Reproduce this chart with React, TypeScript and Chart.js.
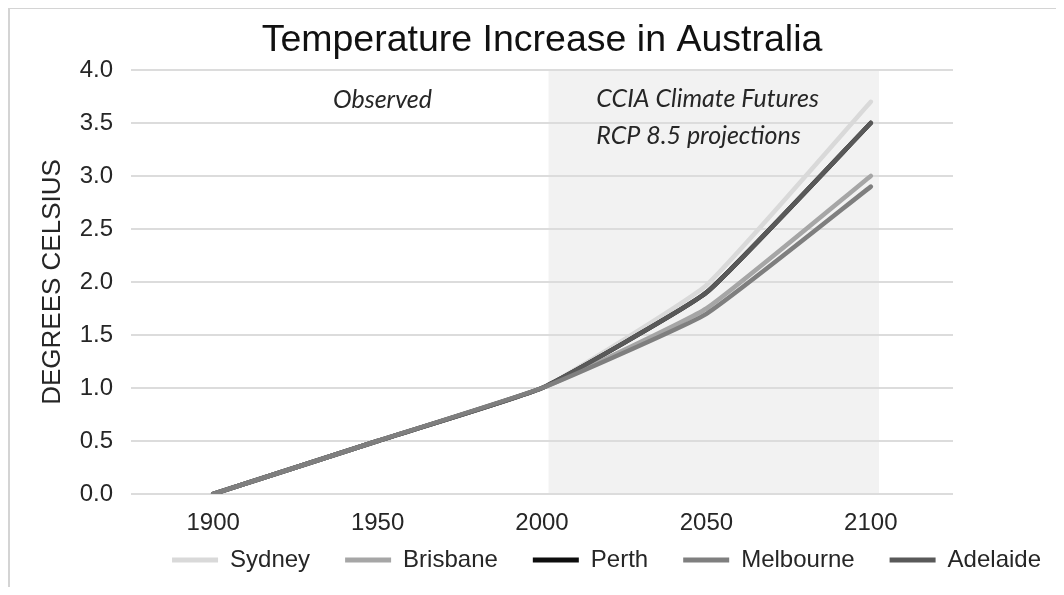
import React, { useEffect, useRef } from "react";
import { Chart, registerables } from "chart.js";

Chart.register(...registerables);

const YEARS = ["1900", "1950", "2000", "2050", "2100"];
const SYDNEY = [0, 0.5, 1.0, 1.97, 3.7];
const BRISBANE = [0, 0.5, 1.0, 1.75, 3.0];
const PERTH = [0, 0.5, 1.0, 1.9, 3.5];
const MELBOURNE = [0, 0.5, 1.0, 1.7, 2.9];
const ADELAIDE = [0, 0.5, 1.0, 1.9, 3.5];

const SERIES_NAMES = ["Sydney", "Brisbane", "Perth", "Melbourne", "Adelaide"];
const SERIES_VALUES = [SYDNEY, BRISBANE, PERTH, MELBOURNE, ADELAIDE];
const SERIES_COLORS = ["#d9d9d9", "#a6a6a6", "#0d0d0d", "#7f7f7f", "#595959"];
const SERIES_ORDER = [4, 2, 3, 0, 1];

const TITLE = "Temperature Increase in Australia";
const Y_TITLE = "DEGREES CELSIUS";
const Y_MIN = 0;
const Y_MAX = 4;
const Y_STEP = 0.5;

const SHADE_START = 2.04;
const SHADE_END = 4.05;
const OBSERVED_LABEL = "Observed";
const PROJ_LABELS = ["CCIA Climate Futures", "RCP 8.5 projections"];

const SANS = "'Liberation Sans', Arial, sans-serif";
const ITALIC = "'Lato', 'Open Sans', sans-serif";

const LEGEND_SHIFT = 23;

const decorPlugin = {
  id: "decor",
  afterLayout(chart: any) {
    const lg = chart.legend;
    if (lg) {
      lg.top -= LEGEND_SHIFT;
      lg.bottom -= LEGEND_SHIFT;
    }
  },
  beforeDraw(chart: any) {
    const { ctx, chartArea, scales, width, height } = chart;
    const x = scales.x;
    ctx.save();
    // outer frame (left + top)
    ctx.strokeStyle = "#d4d4d4";
    ctx.lineWidth = 2;
    ctx.beginPath();
    ctx.moveTo(1, height);
    ctx.lineTo(1, 0);
    ctx.lineTo(width, 0);
    ctx.stroke();
    // projection shading
    const left = x.getPixelForValue(SHADE_START);
    const right = x.getPixelForValue(SHADE_END);
    ctx.fillStyle = "#f2f2f2";
    ctx.fillRect(left, chartArea.top, right - left, chartArea.bottom - chartArea.top);
    ctx.restore();
  },
  beforeDatasetsDraw(chart: any) {
    const { ctx, scales } = chart;
    const x = scales.x;
    const y = scales.y;
    ctx.save();
    ctx.fillStyle = "#262626";
    ctx.font = `italic 25px ${ITALIC}`;
    ctx.textBaseline = "middle";
    ctx.textAlign = "center";
    ctx.fillText(OBSERVED_LABEL, x.getPixelForValue(1.03), y.getPixelForValue(3.72));
    ctx.textAlign = "left";
    ctx.fillText(PROJ_LABELS[0], x.getPixelForValue(2.33), y.getPixelForValue(3.73));
    ctx.fillText(PROJ_LABELS[1], x.getPixelForValue(2.33), y.getPixelForValue(3.38));
    ctx.restore();
  },
};

export default function App() {
  const canvasRef = useRef<HTMLCanvasElement | null>(null);

  useEffect(() => {
    if (!canvasRef.current) return;
    const chart = new Chart(canvasRef.current, {
      type: "line",
      data: {
        labels: YEARS,
        datasets: SERIES_NAMES.map((name, i) => ({
          label: name,
          data: SERIES_VALUES[i],
          borderColor: SERIES_COLORS[i],
          backgroundColor: SERIES_COLORS[i],
          borderWidth: 4.5,
          pointRadius: 0,
          tension: 0.12,
          fill: false,
          borderCapStyle: "round",
          borderJoinStyle: "round",
          order: SERIES_ORDER[i],
        })),
      },
      options: {
        responsive: false,
        animation: false,
        events: [],
        devicePixelRatio: 1,
        layout: { padding: { left: 0, right: -20, top: 0, bottom: -18 } },
        plugins: {
          title: {
            display: true,
            text: TITLE,
            color: "#111111",
            font: { family: SANS, size: 37.5, weight: "normal" },
            padding: { top: 10, bottom: 7 },
          },
          legend: {
            position: "bottom",
            align: "end",
            labels: {
              font: { family: SANS, size: 24 },
              color: "#262626",
              boxWidth: 46,
              boxHeight: 5,
              padding: 35,
              sort: (a: any, b: any) => a.datasetIndex - b.datasetIndex,
              generateLabels: (chart: any) =>
                Chart.defaults.plugins.legend.labels
                  .generateLabels(chart)
                  .map((l: any) => ({ ...l, lineWidth: 0 })),
            },
          },
          tooltip: { enabled: false },
        },
        scales: {
          x: {
            type: "category",
            offset: true,
            grid: { display: false },
            border: { display: false },
            ticks: {
              font: { family: SANS, size: 24 },
              color: "#262626",
              padding: 7,
            },
            afterFit: (s: any) => {
              s.height = 42;
            },
          },
          y: {
            type: "linear",
            position: "left",
            min: Y_MIN,
            max: Y_MAX,
            grid: { color: "#dcdcdc", lineWidth: 2, drawTicks: false },
            border: { display: false },
            ticks: {
              stepSize: Y_STEP,
              font: { family: SANS, size: 24 },
              color: "#262626",
              padding: 18,
              callback: (v: any) => Number(v).toFixed(1),
            },
            title: {
              display: true,
              text: Y_TITLE,
              color: "#262626",
              font: { family: SANS, size: 26 },
              padding: { top: 29, bottom: 0 },
            },
            afterFit: (s: any) => {
              s.width = 123;
            },
          },
          y2: {
            type: "linear",
            position: "right",
            display: true,
            grid: { display: false },
            border: { display: false },
            ticks: { display: false },
            afterFit: (s: any) => {
              s.width = 123;
            },
          },
        },
      },
      plugins: [decorPlugin],
    } as any);
    return () => chart.destroy();
  }, []);

  return (
    <div style={{ width: 1048, height: 579 }}>
      <canvas ref={canvasRef} width={1048} height={579} style={{ display: "block" }} />
    </div>
  );
}
